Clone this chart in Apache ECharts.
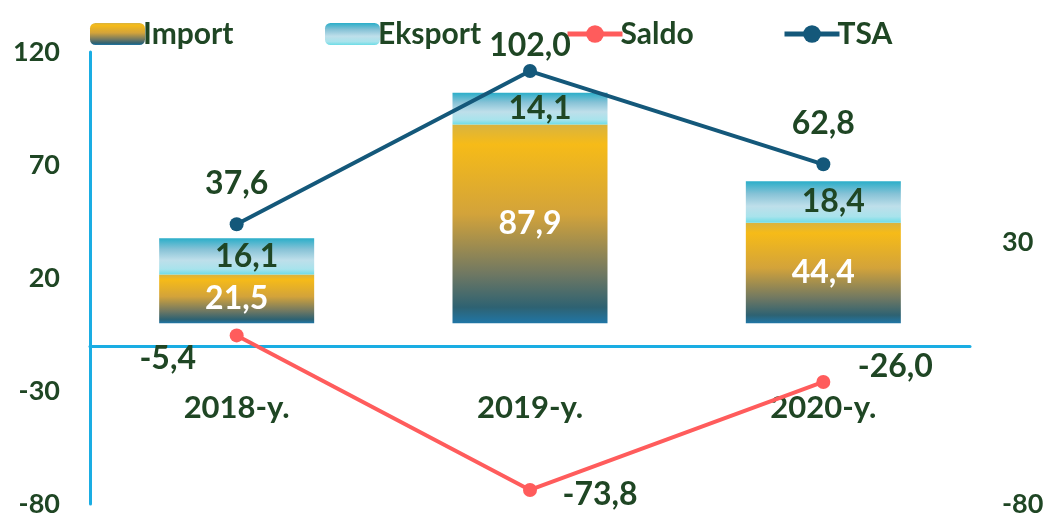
<!DOCTYPE html>
<html>
<head>
<meta charset="utf-8">
<script src="https://cdn.jsdelivr.net/npm/echarts@6/dist/echarts.min.js"></script>
<style>
  html, body { margin: 0; padding: 0; background: #fff; }
  #chart { width: 1045px; height: 515px; }
</style>
</head>
<body>
<div id="chart"></div>
<script>
var years = ['2018-y.', '2019-y.', '2020-y.'];
var importVals = [21.5, 87.9, 44.4];
var eksportVals = [16.1, 14.1, 18.4];
var saldoVals = [-5.4, -73.8, -26.0];
var tsaVals = [37.6, 102.0, 62.8];
var legendNames = ['Import', 'Eksport', 'Saldo', 'TSA'];

var txt = '#1F4624';
var font = 'Lato, "Open Sans", sans-serif';

function fmt(p) {
	return p.value.toFixed(1).replace('.', ',');
}

// label offsets, picked to sit like the original
var saldoOffsets = [[-69, 23], [70, 5], [72, -15]];
var tsaOffsets = [[0, 0], [0, 16], [0, 0]];
var saldoData = saldoVals.map(function (v, i) {
	return { value: v, label: { offset: saldoOffsets[i] } };
});
var tsaData = tsaVals.map(function (v, i) {
	return { value: v, label: { offset: tsaOffsets[i] } };
});

var legendLefts = [85, 320, 560, 777];
var legends = legendNames.map(function (n, i) {
	return {
		left: legendLefts[i],
		top: 14,
		itemWidth: 55,
		itemHeight: 22,
		itemGap: 0,
		selectedMode: false,
		lineStyle: { width: 5 },
		textStyle: { color: txt, fontSize: 30, fontWeight: 'bold', fontFamily: font, padding: [0, 0, 0, -7] },
		data: [n]
	};
});

var chart = echarts.init(document.getElementById('chart'));

var option = {
	animation: false,
	textStyle: { fontFamily: font },
	legend: legends,
	grid: { left: 90, right: 75, top: 52, bottom: 11, containLabel: false, outerBoundsMode: 'none' },
	xAxis: {
		type: 'category',
		data: years,
		position: 'bottom',
		offset: -158,
		axisLine: { onZero: false, lineStyle: { color: '#1AADE3', width: 3 } },
		axisTick: { show: false },
		axisLabel: { color: txt, fontSize: 31, fontWeight: 'bold', margin: 46, fontFamily: font }
	},
	yAxis: [
		{
			type: 'value', min: -80, max: 120, interval: 50,
			splitLine: { show: false },
			axisLine: { show: true, onZero: false, lineStyle: { color: '#1AADE3', width: 3 } },
			axisTick: { show: false },
			axisLabel: { color: txt, fontSize: 27, fontWeight: 'bold', margin: 30, fontFamily: font }
		},
		{
			type: 'value', min: -80, max: 110, interval: 110,
			position: 'right',
			splitLine: { show: false },
			axisLine: { show: false },
			axisTick: { show: false },
			axisLabel: { color: txt, fontSize: 27, fontWeight: 'bold', margin: 32, fontFamily: font, showMaxLabel: false }
		}
	],
	series: [
		{
			name: 'Import',
			type: 'bar',
			stack: 'total',
			barWidth: 155,
			data: importVals,
			itemStyle: {
				color: new echarts.graphic.LinearGradient(0, 0, 0, 1, [
					{ offset: 0, color: '#D8B340' },
					{ offset: 0.1, color: '#F6BB18' },
					{ offset: 0.45, color: '#D3A33A' },
					{ offset: 0.75, color: '#707862' },
					{ offset: 0.92, color: '#2E6272' },
					{ offset: 1, color: '#2076A6' }
				])
			},
			label: {
				show: true, position: 'inside', color: '#ffffff',
				fontSize: 32, fontWeight: 'bold', fontFamily: font, formatter: fmt
			}
		},
		{
			name: 'Eksport',
			type: 'bar',
			stack: 'total',
			barWidth: 155,
			data: eksportVals,
			itemStyle: {
				color: new echarts.graphic.LinearGradient(0, 0, 0, 1, [
					{ offset: 0, color: '#2AAEC9' },
					{ offset: 0.3, color: '#86C2D6' },
					{ offset: 0.6, color: '#BEDFEA' },
					{ offset: 0.85, color: '#A8E3EC' },
					{ offset: 1, color: '#6CDCE6' }
				])
			},
			label: {
				show: true, position: 'inside', color: txt, offset: [10, 0],
				fontSize: 32, fontWeight: 'bold', fontFamily: font, formatter: fmt
			}
		},
		{
			name: 'Saldo',
			type: 'line',
			yAxisIndex: 0,
			data: saldoData,
			symbol: 'circle',
			symbolSize: 14,
			z: 5,
			lineStyle: { color: '#FF5C5C', width: 4 },
			itemStyle: { color: '#FF5C5C' },
			label: {
				show: true, position: 'inside', color: txt,
				fontSize: 32, fontWeight: 'bold', fontFamily: font, formatter: fmt
			}
		},
		{
			name: 'TSA',
			type: 'line',
			yAxisIndex: 1,
			data: tsaData,
			symbol: 'circle',
			symbolSize: 14,
			z: 5,
			lineStyle: { color: '#14587A', width: 4 },
			itemStyle: { color: '#14587A' },
			label: {
				show: true, position: 'top', distance: 18, color: txt,
				fontSize: 32, fontWeight: 'bold', fontFamily: font, formatter: fmt
			}
		}
	]
};

chart.setOption(option);
</script>
</body>
</html>
